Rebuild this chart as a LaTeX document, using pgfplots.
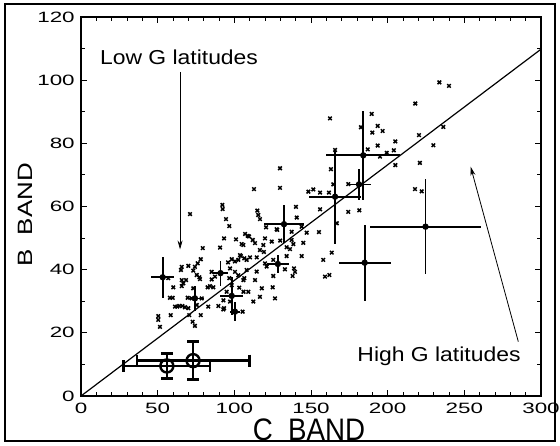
\documentclass[border=0pt]{standalone}
\usepackage{fontspec}
\setmainfont{Liberation Sans}
\usepackage{pgfplots}
\pgfplotsset{compat=1.18}
\usetikzlibrary{arrows.meta}

\begin{document}
\begin{tikzpicture}[x=1bp,y=1bp]
\useasboundingbox (-81,-50) rectangle (479,396);
\draw[line width=1.3bp] (-76,-45) rectangle (474,392);
\begin{axis}[
    at={(0,0)}, anchor=south west,
    scale only axis, width=460bp, height=379bp,
    xmin=0, xmax=300, ymin=0, ymax=120,
    xtick={0,50,...,300}, ytick={0,20,...,120},
    minor x tick num=4, minor y tick num=1,
    tick align=inside, major tick length=6bp, minor tick length=4bp,
    tick style={black, line width=0.9bp},
    axis line style={line width=1.2bp},
    /pgf/number format/assume math mode=true,
    xticklabel style={font=\fontsize{15}{15}\selectfont, xscale=1.5, inner sep=0pt, yshift=-7bp},
    yticklabel style={font=\fontsize{15}{15}\selectfont, xscale=1.5, inner sep=0pt, xshift=-4bp},
    clip=false,
]
% regression line
\addplot[line width=1.2bp, no marks] coordinates {(0,0) (300,109.8)};

% individual sources
\addplot[only marks, mark=x, mark size=2.5bp, line width=1.5bp] coordinates {
(233.7,99.3) (240,98.2) (218,92.6) (162.4,87.9) (189.6,89.3) (182.6,85.1) (193.5,85.5)
(190,83.4) (196.7,83.9) (236.3,85.2) (220.4,82.6) (205,80.6) (229.8,79.4) (193.5,79.3)
(204,77.8) (199.4,77) (187,78.1) (195,75.8) (205,73.1) (221,73.8) (165.7,77.9) (163,71.8)
(129.8,72.1) (129.8,65.9) (164.6,67) (174.3,67.1) (148.3,64.7) (151.5,65.4) (155.9,64.4)
(161.7,64.4) (217.8,65.5) (222.2,64.8) (140.2,59.9) (140.7,56.5) (155.9,59.1) (174.3,58.3)
(181.5,58.8)
(112.8,65.5) (115,58.7) (115.6,57.3) (116.7,56) (120.7,53.4) (128,52.6) (137.4,52)
(143.9,53.6) (147.2,51.7) (155.2,51.9) (107,51.3) (112,49.4) (109.6,50.5) (113.5,48.4)
(120,49.9) (124.4,48.9) (129.9,49.2) (137.4,49.4) (138.5,48.1) (118.9,47.8) (116.7,46.2)
(119.3,45.6) (134.1,47.1) (136.3,46.5) (134.1,44.3) (105.9,47.8) (104.3,44.3) (108,43.1)
(110.2,43.9) (114.6,43.9) (120,42) (121.1,41) (125.4,43.1) (143.9,44.3) (145,48.5)
(133,40.1) (138.9,40.4) (139.6,39.3) (138,38) (125.4,38) (114.6,39.4) (113.5,36.7)
(106.5,37.3) (117.9,34.1) (125,34.4) (109.1,33) (158,43.1) (163.5,45.4) (159.1,37.8)
(162,38.3) (166.8,54.7) (126.5,30.9) (116.7,31.4) (112.4,29.9) (105.4,26.7) (93.3,27.8)
(127.6,52.8)
(71.1,57.6) (92.2,60.5) (92.4,59.2) (94.6,56) (96.7,53.8) (93.3,49.9) (101.1,49.6)
(104.8,48.1) (108.7,50.7) (79.4,46.8) (90.7,47) (78.1,43.3) (76.1,42) (74.3,40.9)
(70,41.2) (65.7,40.9) (65.2,39.9) (73.2,39.7) (75.5,38.3) (77.2,37.6) (65.7,36.7)
(68.5,36.7) (56.9,37.3) (60.2,34.4) (65.7,34.8) (73.2,34.1) (58,31.1) (59.8,31.1)
(61.3,28.3) (64.1,28.5) (66.1,28.5) (67.8,28.1) (70,27.8) (69.6,31.1) (72.2,30.9)
(78.7,30.9) (75.5,28.8) (58.5,25.6) (50.4,25.3) (50.4,24.1) (51.5,21.9) (70.6,25.6)
(72.8,23.5) (74.3,22.2) (78.1,25.6) (83,28.3) (89.6,28.5) (92.8,27.4) (85.2,39.3)
(84.1,34.8) (86.3,34.4) (82.6,34.4) (87.4,37.8) (85.2,36.9) (103.7,44.6) (98.3,43.3)
(100.4,42.6) (95.9,42.3) (102.6,43.1) (106.5,43.6) (97.2,40.4) (100.4,39.3) (96.7,37.3)
(102.6,38.2) (105.9,36.7) (98.3,35.1) (103.2,34.3) (95,33) (106,33) (97.2,29.9)
(92.9,30.3) (77.6,37) (108,39.9) (66.7,35.7) (62.8,28.3)
};

% sources with error bars
\addplot[only marks, mark=*, mark size=2.3bp, line width=1.7bp,
    error bars/.cd, x dir=both, y dir=both, x explicit, y explicit,
    error mark=none, error bar style={line width=1.7bp}] coordinates {
(184.1,76.2) +- (24,14)
(165.7,63.1) +- (17,15)
(181.3,67) +- (8,5)
(224.7,53.6) +- (36,15)
(185,42.2) +- (17,12)
(53.3,37.6) +- (7.5,6.5)
(91,38.9) +- (5,4)
(98.3,31.7) +- (7.5,6)
(100.4,26.7) +- (3,3)
(74.3,30.9) +- (6,4)
(132.4,54.4) +- (13,6)
(128.4,41.8) +- (7,3)
};

% averages (open circles)
\addplot[only marks, mark=o, mark size=6.5bp, line width=2.4bp,
    error bars/.cd, x dir=both, y dir=both, x explicit, y explicit,
    error bar style={line width=2.4bp},
    error mark=-, error mark options={rotate=90, mark size=6bp, line width=2.4bp, black}] coordinates {
(56,9.5) +- (28.2,4)
(73.1,11.2) +- (36.7,6)
};

\draw[line width=0.8bp, -{Stealth[length=9bp, width=5bp]}] (axis cs:64.6,102.6) -- (axis cs:64.6,46.4);
\draw[line width=0.8bp, -{Stealth[length=9bp, width=5bp]}] (axis cs:285.2,17.2) -- (axis cs:254.1,72.6);
\end{axis}
\node[font=\fontsize{23}{23}\selectfont, yscale=0.88] at (98,339) {Low G latitudes};
\node[font=\fontsize{23}{23}\selectfont, yscale=0.88] at (358,40) {High G latitudes};
\node[font=\fontsize{26}{26}\selectfont, xscale=1.07, yscale=1.2] at (228,-34) {C\ \ BAND};
\node[font=\fontsize{26}{26}\selectfont, rotate=90, yscale=0.8] at (-56,181) {B\ \ BAND};
\end{tikzpicture}
\end{document}
